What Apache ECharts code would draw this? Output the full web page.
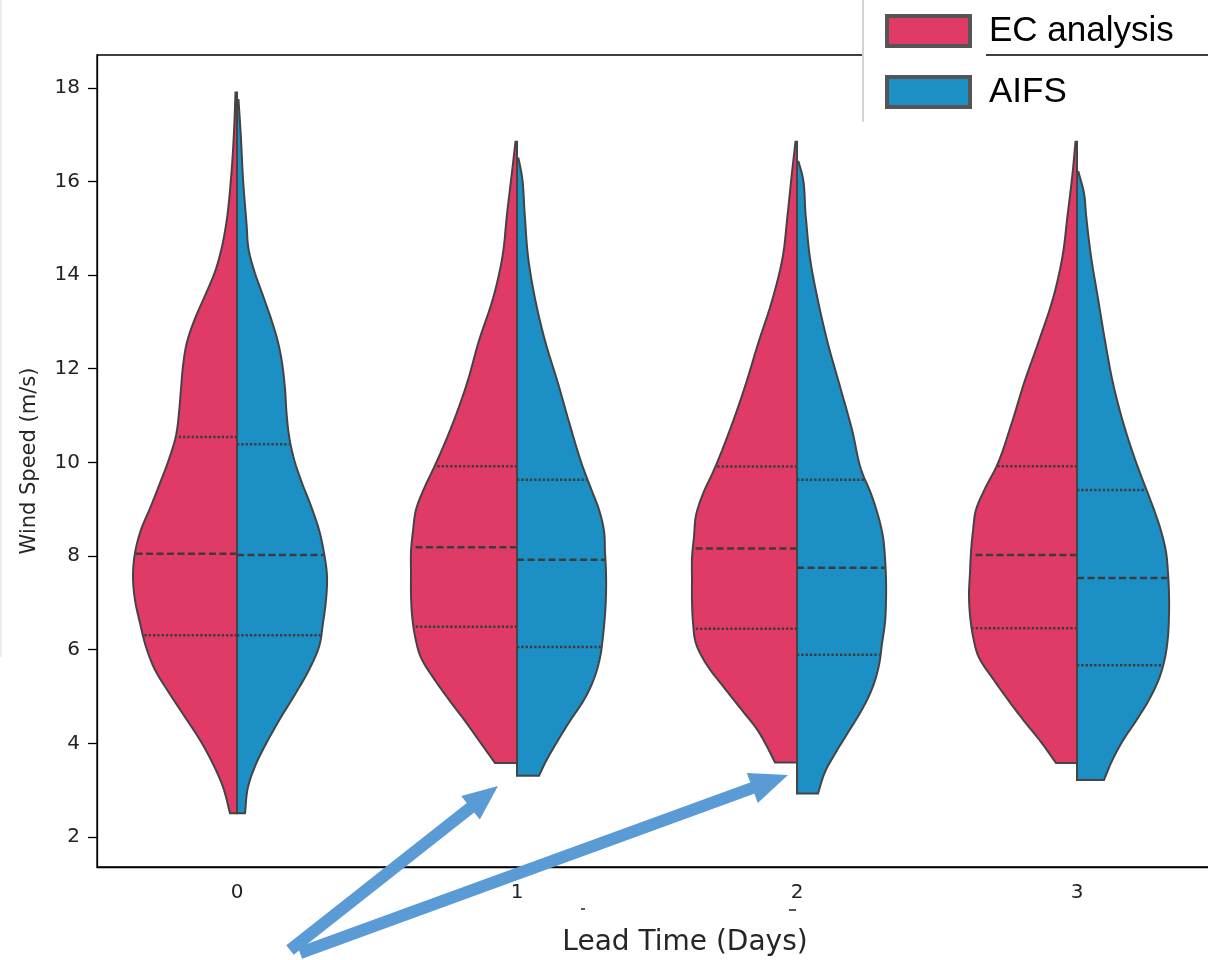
<!DOCTYPE html>
<html>
<head>
<meta charset="utf-8">
<script src="https://cdn.jsdelivr.net/npm/echarts@6/dist/echarts.min.js"></script>
<style>
html,body{margin:0;padding:0;background:#fff;}
#chart{width:1208px;height:960px;}
</style>
</head>
<body>
<div id="chart"></div>
<script>
// ---------------- data ----------------
const categories = ['0', '1', '2', '3'];
const seriesNames = ['EC analysis', 'AIFS'];
const yTicks = [2, 4, 6, 8, 10, 12, 14, 16, 18];

// violin profiles: [wind speed, relative density]
const ecDay0 = [[2.51,7],[3.07,14],[3.56,24],[4.07,37],[4.56,52],[5.08,68],[5.57,82],[6.06,91],[6.57,97],[7.06,102],[7.57,104],[8.07,102],[8.56,96],[9.07,86],[9.56,77],[10.07,68],[10.57,61],[11.06,58],[11.57,56],[12.06,54],[12.57,50],[13.07,42],[13.56,32],[14.07,22],[14.56,15.5],[15.07,11],[16.06,6],[17.06,3],[17.9,1.5]];
const ecDay1 = [[3.58,22],[4.03,37],[4.48,52],[4.93,68],[5.38,83],[5.83,96],[6.29,102],[6.75,105],[7.19,106],[7.64,106],[8.09,106],[8.54,104],[8.99,101],[9.44,93],[9.89,83],[10.79,65],[11.69,50],[12.60,38],[13.50,24],[14.40,14.5],[15.30,10],[16.20,5],[16.85,1.5]];
const ecDay2 = [[3.59,22],[3.85,28],[4.30,40],[4.76,57],[5.22,74],[5.67,90],[6.13,101],[6.58,104],[7.04,105],[7.50,105],[7.96,105],[8.42,103],[8.87,101],[9.33,94],[9.79,84],[10.70,67],[11.62,52],[12.53,39],[13.45,25],[14.36,14.5],[15.27,9.5],[16.19,5],[16.85,1.5]];
const ecDay3 = [[3.58,21],[4.03,36],[4.48,53],[4.93,69],[5.38,84],[5.83,98],[6.29,104],[6.74,107],[7.19,108],[7.64,107],[8.09,106],[8.54,104],[8.99,101],[9.44,92],[9.89,81],[10.79,66],[11.69,53],[12.60,38],[13.50,24],[14.40,14.5],[15.30,9.3],[16.20,4.3],[16.85,1.5]];

const aifsDay0 = [[2.51,8],[3.07,11],[3.56,19],[4.07,31],[4.56,44],[5.08,59],[5.57,72],[6.06,82],[6.57,86],[7.06,89],[7.57,90],[8.07,87],[8.56,82],[9.07,74],[9.56,65],[10.07,57],[10.57,52],[11.06,49.5],[11.57,48],[12.06,45.5],[12.57,41],[13.07,34],[13.56,26],[14.07,17.5],[14.56,11.5],[15.07,9.6],[16.06,6],[17.06,3.6],[17.74,1.5]];
const aifsDay1 = [[3.31,22],[3.58,28],[4.03,40],[4.48,53],[4.93,67],[5.38,77],[5.83,83],[6.29,86],[6.75,88],[7.19,89],[7.64,89],[8.09,88],[8.54,87],[8.99,82],[9.44,74],[9.89,66],[10.79,53],[11.69,41],[12.60,28],[13.50,18],[14.40,11],[15.30,7.7],[16.20,4.3],[16.49,1.5]];
const aifsDay2 = [[2.93,21],[3.39,28],[3.85,40],[4.30,53],[4.76,66],[5.22,76],[5.67,82],[6.13,85],[6.58,88],[7.04,89],[7.50,89],[7.96,88],[8.41,86],[8.87,81],[9.33,74],[9.79,65],[10.70,55],[11.62,43],[12.53,31],[13.45,21],[14.36,13],[15.27,8.7],[16.19,4.7],[16.42,1.5]];
const aifsDay3 = [[3.22,27],[3.58,34],[4.03,45],[4.48,59],[4.93,72],[5.38,82],[5.83,88],[6.29,91],[6.74,92],[7.19,92],[7.64,91],[8.09,89],[8.54,84],[8.99,77],[9.44,69],[9.89,61],[10.79,47],[11.69,36],[12.60,28],[13.50,21],[14.40,14],[15.30,9],[15.75,7],[16.20,1.5]];

// quartiles per lead day
const ecQ1 = [6.31, 6.49, 6.45, 6.46];
const ecMedian = [8.05, 8.19, 8.16, 8.02];
const ecQ3 = [10.54, 9.92, 9.91, 9.92];
const aifsQ1 = [6.31, 6.06, 5.89, 5.67];
const aifsMedian = [8.02, 7.92, 7.75, 7.53];
const aifsQ3 = [10.39, 9.63, 9.63, 9.41];

// ---------------- rendering ----------------
const profiles = [[ecDay0, ecDay1, ecDay2, ecDay3], [aifsDay0, aifsDay1, aifsDay2, aifsDay3]];
const quarts = [[ecQ1, ecMedian, ecQ3], [aifsQ1, aifsMedian, aifsQ3]];
const colors = ['#E03A66', '#1C8FC4'];
const EDGE = '#444444';
const DENSITY_PER_BAND = 280; // density units per category band width

// smooth (Hermite) evaluation of a read profile, for drawing only
function hermiteSampler(prof) {
  const n = prof.length;
  const v = prof.map(p => p[0]), d = prof.map(p => p[1]);
  const m = new Array(n);
  for (let i = 0; i < n; i++) {
    if (i === 0) m[i] = (d[1] - d[0]) / (v[1] - v[0]);
    else if (i === n - 1) m[i] = (d[n - 1] - d[n - 2]) / (v[n - 1] - v[n - 2]);
    else {
      const s0 = (d[i] - d[i - 1]) / (v[i] - v[i - 1]);
      const s1 = (d[i + 1] - d[i]) / (v[i + 1] - v[i]);
      const h0 = v[i] - v[i - 1], h1 = v[i + 1] - v[i];
      m[i] = (s0 * h1 + s1 * h0) / (h0 + h1);
    }
  }
  return function (x) {
    let i = 0;
    while (i < n - 2 && x > v[i + 1]) i++;
    const h = v[i + 1] - v[i];
    const t = Math.min(1, Math.max(0, (x - v[i]) / h));
    const t2 = t * t, t3 = t2 * t;
    return (2 * t3 - 3 * t2 + 1) * d[i] + (t3 - 2 * t2 + t) * h * m[i] + (-2 * t3 + 3 * t2) * d[i + 1] + (t3 - t2) * h * m[i + 1];
  };
}

function makeRender(si) {
  return function (params, api) {
    const ci = api.value(0);
    const side = si === 0 ? -1 : 1;
    const prof = profiles[si][ci];
    const f = hermiteSampler(prof);
    const cx = api.coord([ci, 0])[0];
    const band = api.size([1, 0])[0];
    const k = band / DENSITY_PER_BAND;
    const vLo = prof[0][0], vHi = prof[prof.length - 1][0];
    const N = 160;
    const curve = [];
    for (let s = 0; s <= N; s++) {
      const vv = vLo + (vHi - vLo) * s / N;
      curve.push([cx + side * Math.max(0, f(vv)) * k, api.coord([ci, vv])[1]]);
    }
    const poly = [[cx, curve[0][1]]].concat(curve, [[cx, curve[N][1]]]);
    const children = [{
      type: 'polygon',
      shape: { points: poly },
      style: { fill: colors[si], stroke: EDGE, lineWidth: 2, lineJoin: 'miter' }
    }];
    const q = quarts[si];
    [0, 1, 2].forEach(j => {
      const qv = q[j][ci];
      const y = api.coord([ci, qv])[1];
      const xe = cx + side * (f(qv) * k - 1);
      children.push({
        type: 'line',
        shape: { x1: cx, y1: y, x2: xe, y2: y },
        style: { stroke: '#3c3c3c', lineWidth: 2.5, lineDash: j === 1 ? [7, 3.5] : [2.3, 2] }
      });
    });
    return { type: 'group', children: children };
  };
}

const chart = echarts.init(document.getElementById('chart'), null, { renderer: 'canvas' });

function arrow(x0, y0, tx, ty, headLen, headHalf, col) {
  const dx = tx - x0, dy = ty - y0, L = Math.sqrt(dx * dx + dy * dy);
  const ux = dx / L, uy = dy / L, px = -uy, py = ux;
  const bx = tx - ux * headLen, by = ty - uy * headLen;
  return [
    { type: 'line', z: 20, shape: { x1: x0, y1: y0, x2: bx + ux * 2, y2: by + uy * 2 }, style: { stroke: col, lineWidth: 12, lineCap: 'butt' } },
    { type: 'polygon', z: 20, shape: { points: [[tx, ty], [bx + px * headHalf, by + py * headHalf], [bx - px * headHalf, by - py * headHalf]] }, style: { fill: col } }
  ];
}

const font = 'DejaVu Sans';
const option = {
  animation: false,
  backgroundColor: '#fff',
  grid: { left: 97, width: 1120, top: 55, height: 812, show: true, borderColor: '#000', borderWidth: 1.3, containLabel: false, outerBoundsMode: 'none' },
  xAxis: {
    type: 'category',
    data: categories,
    boundaryGap: true,
    axisLine: { lineStyle: { color: '#000', width: 1.3 } },
    axisTick: { alignWithLabel: true, length: 8, lineStyle: { color: '#000', width: 1.3 } },
    axisLabel: { color: '#222', fontFamily: font, fontSize: 20, margin: 16 },
    splitLine: { show: false },
    name: 'Lead Time (Days)',
    nameLocation: 'middle',
    nameGap: 62,
    nameTextStyle: { color: '#262626', fontFamily: font, fontSize: 28, padding: [0, 0, 0, 56] }
  },
  yAxis: {
    type: 'value',
    min: 1.36,
    max: 18.7,
    axisLine: { show: true, lineStyle: { color: '#000', width: 1.3 } },
    axisTick: { show: true, length: 9, customValues: yTicks, lineStyle: { color: '#000', width: 1.3 } },
    axisLabel: { customValues: yTicks, color: '#222', fontFamily: font, fontSize: 20, margin: 17 },
    splitLine: { show: false },
    name: 'Wind Speed (m/s)',
    nameLocation: 'middle',
    nameGap: 57,
    nameTextStyle: { color: '#262626', fontFamily: font, fontSize: 21 }
  },
  legend: {
    orient: 'vertical',
    left: 880,
    top: 8,
    z: 30,
    icon: 'rect',
    itemWidth: 83,
    itemHeight: 30,
    itemGap: 25,
    itemStyle: { borderColor: '#555', borderWidth: 4 },
    textStyle: { fontFamily: 'Liberation Sans', fontSize: 35, color: '#000', lineHeight: 36, padding: [0, 0, 0, 14] },
    data: seriesNames
  },
  graphic: [
    { type: 'rect', z: 10, shape: { x: 864, y: 0, width: 122, height: 122 }, style: { fill: '#fff' } },
    { type: 'line', z: 11, shape: { x1: 863, y1: 0, x2: 863, y2: 122 }, style: { stroke: '#d4d4d4', lineWidth: 2 } },
    { type: 'line', z: 11, shape: { x1: 1, y1: 0, x2: 1, y2: 657 }, style: { stroke: '#ececec', lineWidth: 2 } },
    { type: 'rect', z: 11, shape: { x: 581, y: 908, width: 4, height: 2 }, style: { fill: '#555' } },
    { type: 'rect', z: 11, shape: { x: 789, y: 909, width: 7, height: 2 }, style: { fill: '#555' } }
  ].concat(arrow(290, 950, 498, 786, 35, 15, '#5B9BD5'), arrow(300, 953, 788, 775, 38, 16, '#5B9BD5')),
  series: [0, 1].map(si => ({
    name: seriesNames[si],
    type: 'custom',
    itemStyle: { color: colors[si] },
    renderItem: makeRender(si),
    encode: { x: 0, y: 1 },
    data: categories.map((c, i) => [i, 0]),
    z: 2
  }))
};
chart.setOption(option);
</script>
</body>
</html>
